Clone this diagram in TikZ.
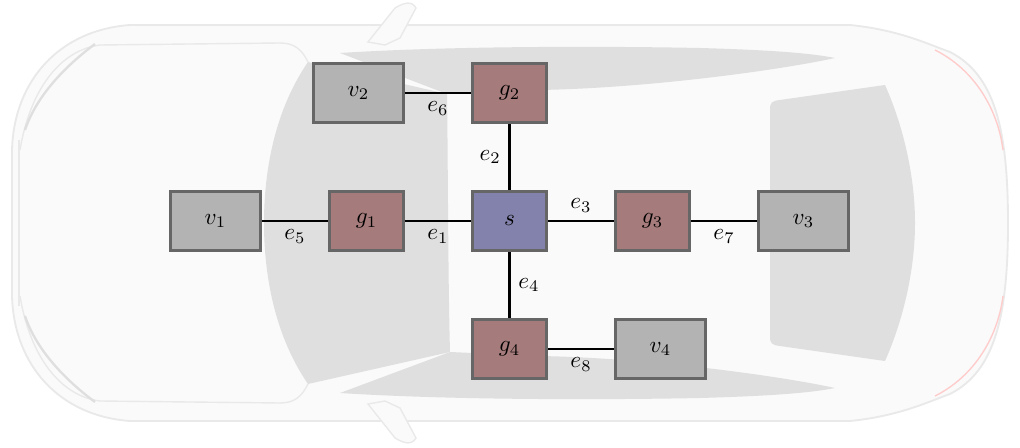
\documentclass[tikz,border=0pt]{standalone}
\usepackage{tikz}
\usepackage{amsmath}

\definecolor{carbody}{HTML}{FAFAFA}
\definecolor{carline}{HTML}{E9E9E9}
\definecolor{carglass}{HTML}{DFDFDF}
\definecolor{gwfill}{HTML}{A67B7B}
\definecolor{swfill}{HTML}{8282AC}
\definecolor{ecufill}{HTML}{B3B3B3}
\definecolor{boxline}{HTML}{666666}

\begin{document}
\begin{tikzpicture}[
  box/.style={draw=boxline, line width=1.3pt, minimum height=0.9cm},
  vbox/.style={box, fill=ecufill, minimum width=1.36cm},
  gbox/.style={box, fill=gwfill, minimum width=1.12cm},
  sbox/.style={box, fill=swfill, minimum width=1.12cm},
  link/.style={line width=0.9pt}
]

\useasboundingbox (-7.720,-3.425) rectangle (7.735,3.348);

% Car from above, drawn in its own units
\begin{scope}[shift={(-7.720cm,3.348cm)}, x=0.15152cm, y=-0.15152cm]
  % body
  \filldraw[fill=carbody, draw=carline, line width=0.8pt]
    (1.2,22.3) -- (1.2,15) .. controls (1.4,8) and (6,3) .. (13,2.5)
    -- (85,2.5) .. controls (90,3) and (93,4.5) .. (95,5.2)
    .. controls (99.5,7.5) and (100.8,13) .. (100.8,22.3)
    .. controls (100.8,31.6) and (99.5,37.1) .. (95,39.4)
    .. controls (93,40.1) and (90,41.6) .. (85,42.1)
    -- (13,42.1) .. controls (6,41.6) and (1.4,36.6) .. (1.2,29.6) -- cycle;
  % mirrors
  \filldraw[fill=carbody, draw=carline, line width=0.6pt]
    (36.8,4.2) -- (39.5,0.8) .. controls (40.5,0.2) and (41.2,0.1) .. (41.6,0.8)
    -- (40,3.8) -- (38.5,4.5) -- cycle;
  \filldraw[fill=carbody, draw=carline, line width=0.6pt]
    (36.8,40.4) -- (39.5,43.8) .. controls (40.5,44.4) and (41.2,44.5) .. (41.6,43.8)
    -- (40,40.8) -- (38.5,40.1) -- cycle;
  % hood and lights
  \draw[carline, line width=0.6pt]
    (2,15) .. controls (3,9) and (6,5) .. (10,4.5) -- (28,4.3)
    .. controls (29.5,4.3) and (30.2,5) .. (30.8,6.2);
  \draw[carline, line width=0.6pt]
    (2,29.6) .. controls (3,35.6) and (6,39.6) .. (10,40.1) -- (28,40.3)
    .. controls (29.5,40.3) and (30.2,39.6) .. (30.8,38.4);
  \draw[carline, line width=0.6pt] (1.9,14) -- (1.9,30.6);
  \draw[carglass, line width=1pt]
    (9.5,4.4) .. controls (6,7) and (3.5,10) .. (2.5,13);
  \draw[carglass, line width=1pt]
    (9.5,40.2) .. controls (6,37.6) and (3.5,34.6) .. (2.5,31.6);
  \draw[red!20, line width=0.6pt]
    (93.5,5) .. controls (97.5,7) and (99.8,11) .. (100.3,15);
  \draw[red!20, line width=0.6pt]
    (93.5,39.6) .. controls (97.5,37.6) and (99.8,33.6) .. (100.3,29.6);
  % windows
  \fill[carglass]
    (30.8,6.2) .. controls (27.5,11) and (26.4,17) .. (26.4,22.3)
    .. controls (26.4,27.6) and (27.5,33.6) .. (30.8,38.4)
    -- (45,35.2) .. controls (44.8,28) and (44.8,16) .. (44.7,9.4) -- cycle;
  \fill[carglass]
    (34,5.3) .. controls (45,4.6) and (60,4.6) .. (70,4.8)
    .. controls (77,5) and (81,5.3) .. (83.5,5.8)
    .. controls (78,7) and (65,8.8) .. (54,9) -- (44.7,9.4) -- cycle;
  \fill[carglass]
    (34,39.3) .. controls (45,40) and (60,40) .. (70,39.8)
    .. controls (77,39.6) and (81,39.3) .. (83.5,38.8)
    .. controls (78,37.6) and (65,35.8) .. (54,35.6) -- (45,35.2) -- cycle;
  \fill[carglass]
    (77,11) .. controls (77,10.2) and (77.2,10.1) .. (78,10) -- (88.5,8.5)
    .. controls (90.5,13) and (91.5,18) .. (91.5,22.3)
    .. controls (91.5,26.6) and (90.5,31.6) .. (88.5,36.1)
    -- (78,34.6) .. controls (77.2,34.5) and (77,34.4) .. (77,33.6) -- cycle;
\end{scope}

% Switch and gateways
\node[sbox] (s) at (0,0) {$s$};
\node[gbox] (g1) at (-2.167,0) {$g_1$};
\node[gbox] (g2) at (0,1.939) {$g_2$};
\node[gbox] (g3) at (2.167,0) {$g_3$};
\node[gbox] (g4) at (0,-1.939) {$g_4$};

% End nodes
\node[vbox] (v1) at (-4.455,0) {$v_1$};
\node[vbox] (v2) at (-2.288,1.939) {$v_2$};
\node[vbox] (v3) at (4.455,0) {$v_3$};
\node[vbox] (v4) at (2.288,-1.939) {$v_4$};

% Links
\draw[link] (g1) -- node[below] {$e_1$} (s);
\draw[link] (g2) -- node[left] {$e_2$} (s);
\draw[link] (s) -- node[above] {$e_3$} (g3);
\draw[link] (s) -- node[right] {$e_4$} (g4);
\draw[link] (v1) -- node[below] {$e_5$} (g1);
\draw[link] (v2) -- node[below] {$e_6$} (g2);
\draw[link] (g3) -- node[below] {$e_7$} (v3);
\draw[link] (g4) -- node[below] {$e_8$} (v4);

\end{tikzpicture}
\end{document}
